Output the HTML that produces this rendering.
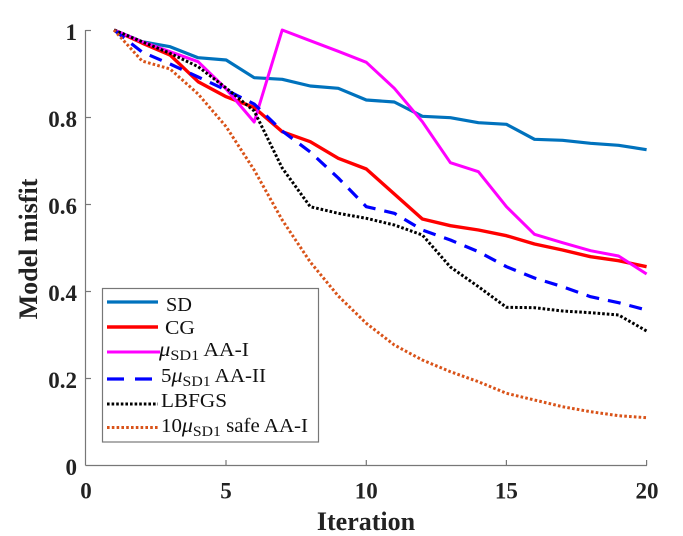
<!DOCTYPE html>
<html><head><meta charset="utf-8"><style>
html,body{margin:0;padding:0;background:#fff;}
svg{display:block;}
text{font-family:"Liberation Serif",serif;}
.tk{font-weight:bold;font-size:23px;fill:#222;}
.lb{font-weight:bold;font-size:26px;fill:#222;}
.lg{font-size:20px;fill:#111;}
</style></head><body>
<svg width="683" height="536" viewBox="0 0 683 536" xmlns="http://www.w3.org/2000/svg">
<rect width="683" height="536" fill="#fff"/>
<!-- axes -->
<g stroke="#777" stroke-width="1.2" fill="none">
<line x1="85.5" y1="30" x2="85.5" y2="465.5"/>
<line x1="85.5" y1="465.5" x2="647" y2="465.5"/>
<line x1="85.5" y1="30.5" x2="91" y2="30.5"/>
<line x1="85.5" y1="117.5" x2="91" y2="117.5"/>
<line x1="85.5" y1="204.5" x2="91" y2="204.5"/>
<line x1="85.5" y1="291.5" x2="91" y2="291.5"/>
<line x1="85.5" y1="378.5" x2="91" y2="378.5"/>
<line x1="226" y1="465.5" x2="226" y2="460"/>
<line x1="366.3" y1="465.5" x2="366.3" y2="460"/>
<line x1="506.4" y1="465.5" x2="506.4" y2="460"/>
<line x1="646.6" y1="465.5" x2="646.6" y2="460"/>
</g>
<!-- tick labels -->
<g class="tk" text-anchor="end">
<text x="77" y="40">1</text>
<text x="77" y="127">0.8</text>
<text x="77" y="214">0.6</text>
<text x="77" y="301">0.4</text>
<text x="77" y="388">0.2</text>
<text x="77" y="475">0</text>
</g>
<g class="tk" text-anchor="middle">
<text x="86" y="498.5">0</text>
<text x="226" y="498.5">5</text>
<text x="366.3" y="498.5">10</text>
<text x="506.4" y="498.5">15</text>
<text x="647" y="498.5">20</text>
</g>
<text class="lb" x="366" y="530" text-anchor="middle">Iteration</text>
<text class="lb" transform="translate(37,249) rotate(-90)" text-anchor="middle">Model misfit</text>

<!-- series -->
<g fill="none" stroke-linejoin="round">
<polyline stroke="#0072BD" stroke-width="3.2" points="114.03,30 142.06,41.7 170.09,46.7 198.12,57.7 226.15,60 254.18,77.7 282.21,79.3 310.24,86 338.27,88.3 366.3,100 394.33,102 422.36,116.3 450.39,117.7 478.42,122.7 506.45,124.3 534.48,139.3 562.51,140.3 590.54,143.3 618.57,145.3 646.6,149.7"/>
<polyline stroke="#FF0000" stroke-width="3.4" points="114.03,30 142.06,43 170.09,55 198.12,81.7 226.15,96.7 254.18,107.5 282.21,131.7 310.24,141.7 338.27,158.3 366.3,169 394.33,194 422.36,219 450.39,225.7 478.42,230 506.45,235.7 534.48,244 562.51,250 590.54,256.7 618.57,260.7 646.6,266.7"/>
<polyline stroke="#FF00FF" stroke-width="3" points="114.03,30 142.06,41.7 170.09,51.7 198.12,61.7 226.15,89 254.18,122 282.21,30 310.24,40.7 338.27,51.3 366.3,62.3 394.33,88.3 422.36,121.7 450.39,162.7 478.42,171.7 506.45,206.7 534.48,234.3 562.51,242.7 590.54,250.7 618.57,256 646.6,274"/>
<polyline stroke="#0000FF" stroke-width="3.2" stroke-dasharray="13 9" points="114.03,30 142.06,52 170.09,64 198.12,77 226.15,90 254.18,104 282.21,131 310.24,152 338.27,178 366.3,206.7 394.33,213.3 422.36,230 450.39,240 478.42,251.7 506.45,266.7 534.48,278 562.51,286.7 590.54,296.7 618.57,302.7 646.6,310"/>
<polyline stroke="#000" stroke-width="3" stroke-dasharray="2.6 2" points="114.03,30 142.06,41.7 170.09,53.3 198.12,66.7 226.15,88 254.18,111 282.21,168 310.24,206.7 338.27,213.3 366.3,218.3 394.33,225 422.36,235 450.39,267 478.42,286.7 506.45,307.3 534.48,307.7 562.51,311 590.54,312.7 618.57,315 646.6,331"/>
<polyline stroke="#D95319" stroke-width="3" stroke-dasharray="2.6 2.2" points="114.03,30 142.06,61 170.09,69 198.12,94 226.15,126.7 254.18,170 282.21,220 310.24,262 338.27,296 366.3,323.3 394.33,345 422.36,360 450.39,371.7 478.42,381.7 506.45,393.3 534.48,400 562.51,406.7 590.54,411.7 618.57,415.7 646.6,417.7"/>
</g>

<!-- legend -->
<rect x="102.5" y="288.5" width="216" height="153.5" fill="#fff" stroke="#777" stroke-width="1.2"/>
<g fill="none">
<line x1="107" y1="302" x2="158" y2="302" stroke="#0072BD" stroke-width="3.2"/>
<line x1="107" y1="327" x2="158" y2="327" stroke="#FF0000" stroke-width="3.4"/>
<line x1="107" y1="352" x2="160" y2="352" stroke="#FF00FF" stroke-width="3"/>
<line x1="107" y1="379" x2="158" y2="379" stroke="#0000FF" stroke-width="3.2" stroke-dasharray="17 11"/>
<line x1="107" y1="404" x2="158" y2="404" stroke="#000" stroke-width="3" stroke-dasharray="2.6 2"/>
<line x1="107" y1="427.5" x2="158" y2="427.5" stroke="#D95319" stroke-width="3" stroke-dasharray="2.6 2.2"/>
</g>
<g class="lg">
<text x="166" y="311" textLength="26" lengthAdjust="spacingAndGlyphs">SD</text>
<text x="165" y="334" textLength="30" lengthAdjust="spacingAndGlyphs">CG</text>
<text x="159" y="356" textLength="90" lengthAdjust="spacingAndGlyphs"><tspan font-style="italic" font-size="21">μ</tspan><tspan font-size="15" dy="4">SD1</tspan><tspan dy="-4"> AA-I</tspan></text>
<text x="161" y="382" textLength="105" lengthAdjust="spacingAndGlyphs">5<tspan font-style="italic" font-size="21">μ</tspan><tspan font-size="15" dy="4">SD1</tspan><tspan dy="-4"> AA-II</tspan></text>
<text x="161" y="407" textLength="66" lengthAdjust="spacingAndGlyphs">LBFGS</text>
<text x="161" y="432" textLength="147" lengthAdjust="spacingAndGlyphs">10<tspan font-style="italic" font-size="21">μ</tspan><tspan font-size="15" dy="4">SD1</tspan><tspan dy="-4"> safe AA-I</tspan></text>
</g>
</svg>
</body></html>
